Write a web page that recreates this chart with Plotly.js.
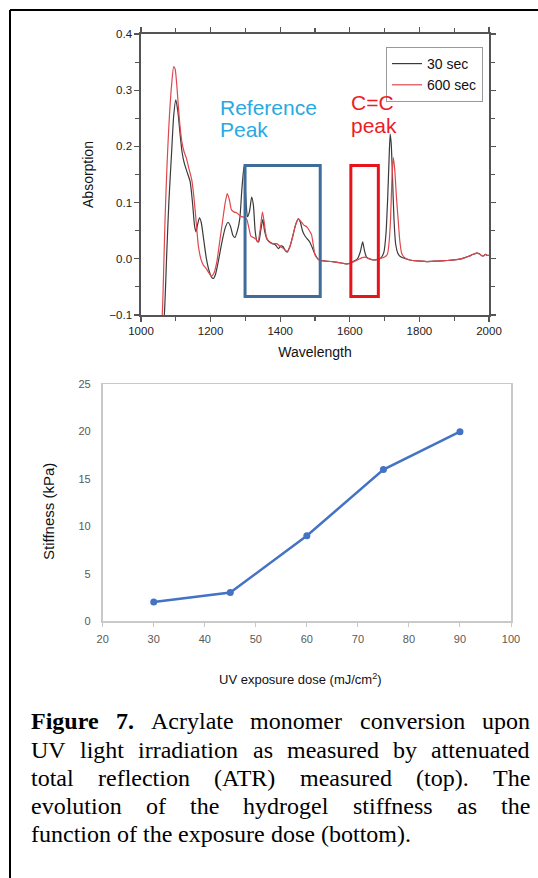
<!DOCTYPE html>
<html>
<head>
<meta charset="utf-8">
<script src="https://cdn.plot.ly/plotly-3.0.1.min.js"></script>
<style>
html,body{margin:0;padding:0;background:#fff;}
#chart{width:538px;height:878px;}
</style>
</head>
<body>
<div id="chart"></div>
<script>
// ---- Top chart: ATR spectra ----
const wl30 = [1060,1067,1074,1080,1088,1094,1100,1106,1112,1118,1124,1132,1141,1148,1154,1158,1163,1168,1173,1180,1188,1196,1203,1208,1214,1222,1232,1242,1250,1257,1264,1270,1277,1284,1290,1296,1301,1306,1312,1318,1323,1328,1333,1338,1344,1350,1355,1362,1370,1378,1386,1395,1402,1408,1414,1420,1428,1436,1444,1452,1458,1464,1470,1477,1485,1492,1500,1508,1515,1530,1550,1570,1590,1600,1612,1622,1630,1637,1642,1648,1660,1675,1690,1698,1704,1709,1713,1716,1719,1723,1727,1732,1738,1745,1760,1780,1800,1821,1850,1880,1900,1920,1940,1955,1965,1972,1978,1984,1990,1995,2000];
const abs30 = [-0.14,-0.10,0.01,0.10,0.19,0.255,0.283,0.262,0.224,0.19,0.171,0.155,0.138,0.10,0.058,0.048,0.062,0.073,0.065,0.035,0.0,-0.022,-0.033,-0.035,-0.028,-0.005,0.028,0.055,0.065,0.058,0.042,0.038,0.05,0.072,0.125,0.165,0.11,0.075,0.085,0.11,0.095,0.05,0.032,0.03,0.05,0.07,0.05,0.035,0.03,0.027,0.025,0.018,0.023,0.022,0.015,0.012,0.022,0.04,0.06,0.071,0.065,0.05,0.042,0.036,0.03,0.02,0.008,0.0,-0.003,-0.004,-0.005,-0.007,-0.009,-0.008,-0.004,0.0,0.012,0.03,0.015,0.003,-0.001,-0.002,0.002,0.012,0.045,0.11,0.18,0.222,0.205,0.14,0.07,0.025,0.01,0.004,0.0,-0.003,-0.004,-0.005,-0.004,-0.003,-0.002,0.0,0.004,0.008,0.01,0.009,0.006,0.005,0.008,0.006,0.006];

const wl600 = [1055,1061,1066,1069,1075,1081,1088,1094,1098,1104,1110,1117,1124,1130,1138,1146,1152,1158,1165,1172,1179,1188,1196,1203,1210,1218,1226,1235,1242,1248,1254,1260,1268,1275,1282,1289,1296,1304,1310,1316,1323,1330,1336,1342,1349,1354,1360,1368,1378,1390,1400,1410,1420,1428,1436,1444,1452,1460,1468,1476,1484,1490,1495,1500,1508,1515,1530,1550,1570,1590,1600,1612,1625,1635,1644,1655,1670,1685,1700,1708,1713,1717,1721,1725,1729,1734,1739,1744,1749,1756,1763,1780,1800,1821,1850,1880,1900,1920,1940,1955,1965,1972,1978,1984,1990,1995,2000];
const abs600 = [-0.14,-0.10,0.0,0.069,0.17,0.247,0.31,0.342,0.338,0.30,0.25,0.21,0.19,0.18,0.16,0.14,0.11,0.07,0.022,0.0,-0.011,-0.018,-0.026,-0.031,-0.025,-0.005,0.03,0.07,0.10,0.116,0.105,0.087,0.083,0.082,0.078,0.075,0.074,0.07,0.055,0.04,0.038,0.035,0.03,0.05,0.083,0.065,0.04,0.03,0.027,0.027,0.022,0.018,0.013,0.022,0.04,0.06,0.071,0.066,0.06,0.057,0.05,0.043,0.025,0.007,0.0,-0.003,-0.004,-0.005,-0.007,-0.009,-0.008,-0.005,-0.001,0.002,0.003,0.0,-0.002,0.0,0.003,0.008,0.03,0.069,0.14,0.18,0.16,0.11,0.069,0.03,0.01,0.003,0.0,-0.003,-0.004,-0.005,-0.004,-0.003,-0.002,0.0,0.004,0.008,0.01,0.009,0.006,0.005,0.008,0.006,0.006];

const seriesNames = ["30 sec", "600 sec"];
// highlight boxes: [x0, x1, y0, y1] in data units
const refBox = [1299, 1515, -0.067, 0.166];
const ccBox = [1603, 1682, -0.067, 0.166];

// ---- Bottom chart: stiffness vs dose ----
const dose = [30, 45, 60, 75, 90];
const stiffness = [2, 3, 9, 16, 20];

// ---- Caption ----
const captionLines = [
  [["Figure", true], ["7.", true], ["Acrylate", false], ["monomer", false], ["conversion", false], ["upon", false]],
  [["UV", false], ["light", false], ["irradiation", false], ["as", false], ["measured", false], ["by", false], ["attenuated", false]],
  [["total", false], ["reflection", false], ["(ATR)", false], ["measured", false], ["(top).", false], ["The", false]],
  [["evolution", false], ["of", false], ["the", false], ["hydrogel", false], ["stiffness", false], ["as", false], ["the", false]],
  [["function", false], ["of", false], ["the", false], ["exposure", false], ["dose", false], ["(bottom).", false]]
];

const W = 538, H = 878;
const px = v => v / W;
const py = v => 1 - v / H;
const sans = "Liberation Sans, Arial, sans-serif";
const serif = "Liberation Serif, Times New Roman, serif";

const traces = [
  {x: wl30, y: abs30, name: seriesNames[0], type: "scatter", mode: "lines",
   line: {color: "#3a3a3a", width: 1.2, shape: "spline", smoothing: 0.6}, xaxis: "x", yaxis: "y"},
  {x: wl600, y: abs600, name: seriesNames[1], type: "scatter", mode: "lines",
   line: {color: "#e0474c", width: 1.2, shape: "spline", smoothing: 0.6}, xaxis: "x", yaxis: "y"},
  {x: dose, y: stiffness, type: "scatter", mode: "lines+markers", showlegend: false,
   line: {color: "#4472c4", width: 2.5}, marker: {color: "#4472c4", size: 7},
   xaxis: "x2", yaxis: "y2"}
];

const topAxisCommon = {
  showline: true, linecolor: "#555", linewidth: 1.6, mirror: "allticks",
  ticks: "outside", ticklen: 5, tickwidth: 1.3, tickcolor: "#555",
  showgrid: false, zeroline: false,
  tickfont: {family: sans, size: 11.5, color: "#222"}
};

// caption annotations (justified)
const cv = document.createElement("canvas").getContext("2d");
const capSize = 24;
const capLeft = 31, capRight = 530;
const capCenters = [721, 749.5, 777.5, 805.5, 833.5];
const annotations = [];
captionLines.forEach((words, li) => {
  const widths = words.map(([w, b]) => {
    cv.font = (b ? "bold " : "") + capSize + "px 'Liberation Serif'";
    return cv.measureText(w).width;
  });
  const total = widths.reduce((a, b) => a + b, 0);
  const justified = li < captionLines.length - 1;
  cv.font = capSize + "px 'Liberation Serif'";
  const gap = justified ? (capRight - capLeft - total) / (words.length - 1) : cv.measureText(" ").width;
  let x = capLeft;
  words.forEach(([w, b], i) => {
    annotations.push({
      text: b ? "<b>" + w + "</b>" : w, xref: "paper", yref: "paper",
      x: px(x - 2), y: py(capCenters[li]), xanchor: "left", yanchor: "middle",
      showarrow: false, font: {family: serif, size: capSize, color: "#000"}
    });
    x += widths[i] + gap;
  });
});

annotations.push(
  {text: "Reference", x: 1221, y: 0.269, xref: "x", yref: "y", xanchor: "left", yanchor: "middle",
   showarrow: false, font: {family: sans, size: 21, color: "#29a9e1"}},
  {text: "Peak", x: 1221, y: 0.2295, xref: "x", yref: "y", xanchor: "left", yanchor: "middle",
   showarrow: false, font: {family: sans, size: 21, color: "#29a9e1"}},
  {text: "C=C", x: 1598, y: 0.2776, xref: "x", yref: "y", xanchor: "left", yanchor: "middle",
   showarrow: false, font: {family: sans, size: 21, color: "#ee1c25"}},
  {text: "peak", x: 1598, y: 0.238, xref: "x", yref: "y", xanchor: "left", yanchor: "middle",
   showarrow: false, font: {family: sans, size: 21, color: "#ee1c25"}},
  {text: "Stiffness (kPa)", x: px(48), y: py(512), xref: "paper", yref: "paper", textangle: -90,
   xanchor: "center", yanchor: "middle", showarrow: false, font: {family: sans, size: 15, color: "#111"}},
  {text: "UV exposure dose (mJ/cm<sup>2</sup>)", x: px(300), y: py(679), xref: "paper", yref: "paper",
   xanchor: "center", yanchor: "middle", showarrow: false, font: {family: sans, size: 13, color: "#111"}}
);

const shapes = [
  {type: "rect", xref: "x", yref: "y", x0: refBox[0], x1: refBox[1], y0: refBox[2], y1: refBox[3],
   line: {color: "#3f6d99", width: 3}},
  {type: "rect", xref: "x", yref: "y", x0: ccBox[0], x1: ccBox[1], y0: ccBox[2], y1: ccBox[3],
   line: {color: "#e8141c", width: 3}},
  {type: "line", xref: "paper", yref: "paper", x0: px(10), x1: 1, y0: py(10), y1: py(10),
   line: {color: "#000", width: 2}},
  {type: "line", xref: "paper", yref: "paper", x0: px(10), x1: px(10), y0: py(10), y1: 0,
   line: {color: "#000", width: 2}}
];

const layout = {
  width: W, height: H,
  margin: {l: 0, r: 0, t: 0, b: 0},
  paper_bgcolor: "#fff", plot_bgcolor: "rgba(0,0,0,0)",
  font: {family: sans},
  showlegend: true,
  legend: {x: px(386), y: py(47), xanchor: "left", yanchor: "top",
           bgcolor: "#fff", bordercolor: "#999", borderwidth: 1, itemwidth: 30,
           font: {family: sans, size: 14, color: "#111"}, tracegroupgap: 0},
  xaxis: Object.assign({}, topAxisCommon, {
    domain: [px(141), px(489)], range: [1000, 2000], anchor: "y",
    tick0: 1000, dtick: 200,
    minor: {dtick: 100, ticks: "outside", ticklen: 4, tickcolor: "#555", tickwidth: 1.2, showgrid: false},
    title: {text: "Wavelength", font: {family: sans, size: 14, color: "#111"}, standoff: 11}
  }),
  yaxis: Object.assign({}, topAxisCommon, {
    domain: [py(315), py(34)], range: [-0.1, 0.4], anchor: "x",
    tick0: 0, dtick: 0.1, tickformat: ".1f",
    minor: {dtick: 0.05, ticks: "outside", ticklen: 4, tickcolor: "#555", tickwidth: 1.2, showgrid: false},
    title: {text: "Absorption", font: {family: sans, size: 14, color: "#111"}, standoff: 12}
  }),
  xaxis2: {
    domain: [px(102.7), px(511)], range: [20, 100], anchor: "y2",
    dtick: 10, showline: true, mirror: true, linecolor: "#c9c9c9", linewidth: 1.8,
    ticks: "outside", ticklen: 4, tickcolor: "#c9c9c9", tickwidth: 1,
    ticklabelstandoff: 3,
    showgrid: false, zeroline: false,
    tickfont: {family: sans, size: 11, color: "#595959"}
  },
  yaxis2: {
    domain: [py(621), py(384.3)], range: [0, 25], anchor: "x2",
    dtick: 5, showline: true, mirror: true, linecolor: "#c9c9c9", linewidth: 1.8,
    ticks: "", ticklabelstandoff: 8,
    showgrid: false, zeroline: false,
    tickfont: {family: sans, size: 11, color: "#595959"}
  },
  annotations: annotations,
  shapes: shapes
};

Plotly.newPlot("chart", traces, layout, {displayModeBar: false, staticPlot: true});
</script>
</body>
</html>
